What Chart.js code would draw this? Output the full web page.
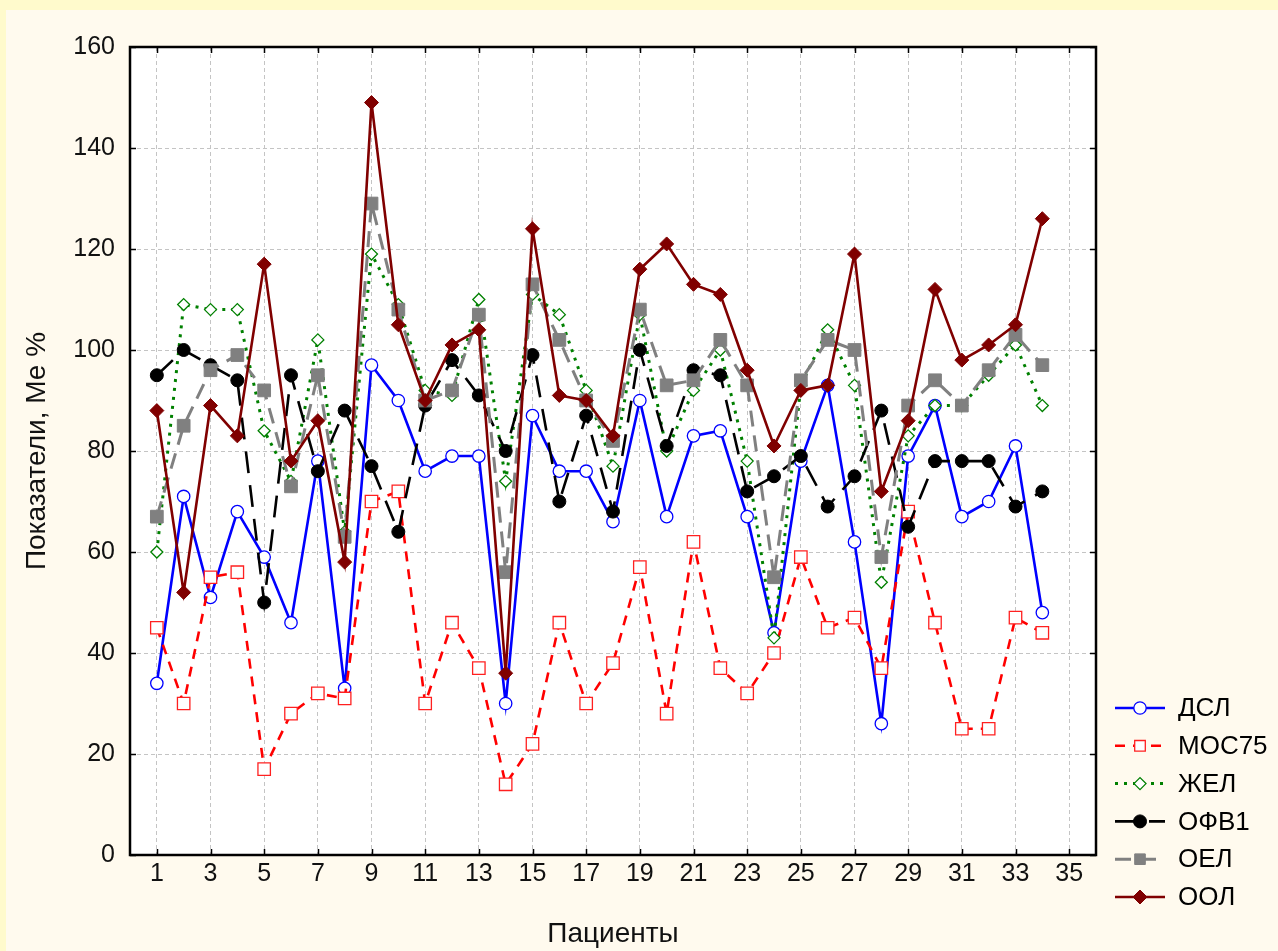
<!DOCTYPE html>
<html>
<head>
<meta charset="utf-8">
<script src="https://cdn.jsdelivr.net/npm/chart.js@4/dist/chart.umd.min.js"></script>
<style>
  html, body { margin: 0; padding: 0; background: #fffacc; }
  #wrap { width: 1278px; height: 951px; }
</style>
</head>
<body>
<div id="wrap"><canvas id="c" width="1278" height="951"></canvas></div>
<script>
// Patient numbers on the horizontal axis
const patients = [1,2,3,4,5,6,7,8,9,10,11,12,13,14,15,16,17,18,19,20,21,22,23,24,25,26,27,28,29,30,31,32,33,34];
const xTickValues = [1,3,5,7,9,11,13,15,17,19,21,23,25,27,29,31,33,35];

// Indicators, median % of predicted
const dsl   = [34,71,51,68,59,46,78,33,97,90,76,79,79,30,87,76,76,66,90,67,83,84,67,44,78,93,62,26,79,89,67,70,81,48];
const mos75 = [45,30,55,56,17,28,32,31,70,72,30,46,37,14,22,46,30,38,57,28,62,37,32,40,59,45,47,37,68,46,25,25,47,44];
const zhel  = [60,109,108,108,84,74,102,64,119,109,92,91,110,74,111,107,92,77,107,80,92,100,78,43,93,104,93,54,83,89,89,95,101,89];
const fev1  = [95,100,97,94,50,95,76,88,77,64,89,98,91,80,99,70,87,68,100,81,96,95,72,75,79,69,75,88,65,78,78,78,69,72];
const oel   = [67,85,96,99,92,73,95,63,129,108,90,92,107,56,113,102,90,82,108,93,94,102,93,55,94,102,100,59,89,94,89,96,103,97];
const ool   = [88,52,89,83,117,78,86,58,149,105,90,101,104,36,124,91,90,83,116,121,113,111,96,81,92,93,119,72,86,112,98,101,105,126];

const seriesNames = ['ДСЛ', 'МОС75', 'ЖЕЛ', 'ОФВ1', 'ОЕЛ', 'ООЛ'];

const FONT = "'Liberation Sans', Arial, sans-serif";
Chart.defaults.font.family = FONT;
Chart.defaults.color = '#000';

const toPoints = (vals) => patients.map((p, i) => ({ x: p, y: vals[i] }));

const datasets = [
  { label: seriesNames[0], data: toPoints(dsl), borderColor: '#0000ff', borderWidth: 2.6, borderDash: [],
    pointStyle: 'circle', pointRadius: 6.2, pointBackgroundColor: '#ffffff', pointBorderColor: '#0000ff', pointBorderWidth: 1.3, order: 6 },
  { label: seriesNames[1], data: toPoints(mos75), borderColor: '#ff0000', borderWidth: 2.6, borderDash: [10, 8],
    pointStyle: 'rect', pointRadius: 8.8, pointBackgroundColor: '#ffffff', pointBorderColor: '#ff2020', pointBorderWidth: 1.3, order: 5 },
  { label: seriesNames[2], data: toPoints(zhel), borderColor: '#008000', borderWidth: 3, borderDash: [3, 6],
    pointStyle: 'rectRot', pointRadius: 6, pointBackgroundColor: '#ffffff', pointBorderColor: '#008000', pointBorderWidth: 1.3, order: 4 },
  { label: seriesNames[3], data: toPoints(fev1), borderColor: '#000000', borderWidth: 2.6, borderDash: [22, 12],
    pointStyle: 'circle', pointRadius: 6.5, pointBackgroundColor: '#000000', pointBorderColor: '#000000', pointBorderWidth: 1, order: 3 },
  { label: seriesNames[4], data: toPoints(oel), borderColor: '#808080', borderWidth: 3, borderDash: [16, 9],
    pointStyle: 'rect', pointRadius: 9, pointBackgroundColor: '#808080', pointBorderColor: '#808080', pointBorderWidth: 1, order: 2 },
  { label: seriesNames[5], data: toPoints(ool), borderColor: '#800000', borderWidth: 2.6, borderDash: [],
    pointStyle: 'rectRot', pointRadius: 7, pointBackgroundColor: '#800000', pointBorderColor: '#800000', pointBorderWidth: 1, order: 1 }
];
datasets.forEach(d => { d.tension = 0; d.fill = false; d.pointHoverRadius = d.pointRadius; });

// Page background, white plotting field
const backdrop = {
  id: 'backdrop',
  beforeDraw(chart) {
    const { ctx, width, height, chartArea: a } = chart;
    ctx.save();
    ctx.fillStyle = '#fffacc';
    ctx.fillRect(0, 0, width, height);
    ctx.fillStyle = '#fffaee';
    ctx.fillRect(6, 10, width - 6, height - 10);
    ctx.fillStyle = '#ffffff';
    ctx.fillRect(a.left, a.top, a.right - a.left, a.bottom - a.top);
    ctx.restore();
  }
};

// Closed frame with inward tick marks on all four sides
const frame = {
  id: 'frame',
  afterDatasetsDraw(chart) {
    const { ctx, chartArea: a, scales: { x, y } } = chart;
    ctx.save();
    ctx.strokeStyle = '#000';
    ctx.lineWidth = 1.5;
    ctx.beginPath();
    y.ticks.forEach(t => {
      const py = Math.round(y.getPixelForValue(t.value)) + 0.5;
      ctx.moveTo(a.left, py); ctx.lineTo(a.left + 6, py);
      ctx.moveTo(a.right, py); ctx.lineTo(a.right - 6, py);
    });
    x.ticks.forEach(t => {
      const px = Math.round(x.getPixelForValue(t.value)) + 0.5;
      ctx.moveTo(px, a.top); ctx.lineTo(px, a.top + 6);
      ctx.moveTo(px, a.bottom); ctx.lineTo(px, a.bottom - 6);
    });
    ctx.stroke();
    ctx.lineWidth = 2.5;
    ctx.strokeRect(a.left, a.top, a.right - a.left, a.bottom - a.top);
    ctx.restore();
  }
};

function drawMarker(ctx, style, cx, cy, r, fill, stroke, lw) {
  ctx.beginPath();
  if (style === 'circle') {
    ctx.arc(cx, cy, r, 0, Math.PI * 2);
  } else if (style === 'rect') {
    const s = Math.SQRT1_2 * r;
    ctx.rect(cx - s, cy - s, 2 * s, 2 * s);
  } else {
    ctx.moveTo(cx - r, cy); ctx.lineTo(cx, cy - r); ctx.lineTo(cx + r, cy); ctx.lineTo(cx, cy + r);
    ctx.closePath();
  }
  ctx.fillStyle = fill; ctx.fill();
  ctx.lineWidth = lw; ctx.strokeStyle = stroke; ctx.stroke();
}

// Series key in the lower right corner
const seriesKey = {
  id: 'seriesKey',
  afterDraw(chart) {
    const ctx = chart.ctx;
    const x0 = 1115, x1 = 1165, mx = 1140, tx = 1178, top = 708, step = 37.8;
    ctx.save();
    chart.data.datasets.forEach((ds, i) => {
      const cy = top + i * step;
      ctx.strokeStyle = ds.borderColor;
      ctx.lineWidth = ds.borderWidth;
      ctx.setLineDash(ds.borderDash || []);
      ctx.beginPath(); ctx.moveTo(x0, cy); ctx.lineTo(x1, cy); ctx.stroke();
      ctx.setLineDash([]);
      drawMarker(ctx, ds.pointStyle, mx, cy, Math.min(ds.pointRadius, 7.5), ds.pointBackgroundColor, ds.pointBorderColor, ds.pointBorderWidth);
      ctx.fillStyle = '#000';
      ctx.font = '26px ' + FONT;
      ctx.textBaseline = 'middle';
      ctx.textAlign = 'left';
      ctx.fillText(ds.label, tx, cy + 1);
    });
    ctx.restore();
  }
};

new Chart(document.getElementById('c'), {
  type: 'line',
  data: { datasets },
  plugins: [backdrop, frame, seriesKey],
  options: {
    responsive: false,
    animation: false,
    events: [],
    layout: { padding: { left: 0, right: 182, top: 47, bottom: 0 } },
    plugins: { legend: { display: false }, tooltip: { enabled: false } },
    scales: {
      x: {
        type: 'linear', min: 0, max: 36,
        afterBuildTicks: (s) => { s.ticks = xTickValues.map(v => ({ value: v })); },
        afterFit: (s) => { s.height = 96; },
        ticks: { autoSkip: false, maxRotation: 0, padding: 4, font: { size: 25 }, color: '#111' },
        grid: { color: '#c4c4c4', lineWidth: 1, drawTicks: false },
        border: { display: false, dash: [4, 3] },
        title: { display: true, text: 'Пациенты', font: { size: 28 }, color: '#111', padding: { top: 0, bottom: 0 } }
      },
      y: {
        type: 'linear', min: 0, max: 160,
        ticks: { stepSize: 20, padding: 15, font: { size: 25 }, color: '#111' },
        afterFit: (s) => { s.width = 130; },
        grid: { color: '#c4c4c4', lineWidth: 1, drawTicks: false },
        border: { display: false, dash: [4, 3] },
        title: { display: true, text: 'Показатели, Ме %', font: { size: 28 }, color: '#111', padding: { top: 20, bottom: 0 } }
      }
    }
  }
});
</script>
</body>
</html>
